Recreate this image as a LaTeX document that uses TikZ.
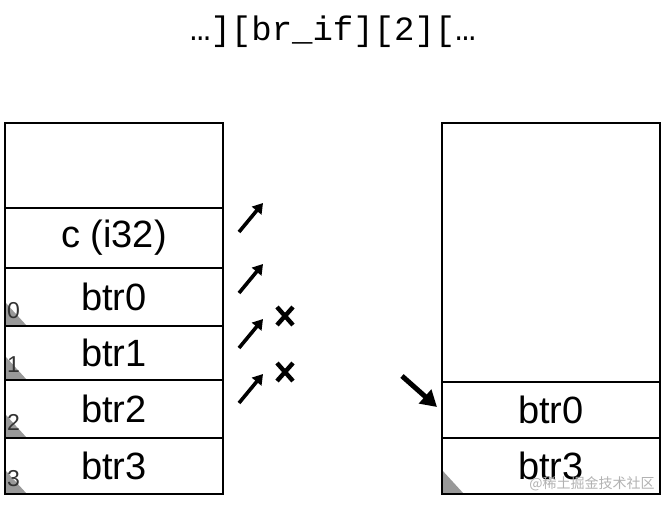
\documentclass[tikz,border=0pt]{standalone}
\usepackage{fontspec}
\setmainfont{Liberation Sans}
\newfontfamily\monofont{Liberation Mono}
\newfontfamily\cjkfont{Noto Sans CJK SC}
\usetikzlibrary{arrows.meta}
\begin{document}
\begin{tikzpicture}[x=1pt,y=-1pt,
  cell/.style={draw=black,line width=1.6pt,inner sep=0pt,minimum width=218pt,
    font=\fontsize{38}{40}\selectfont},
  idx/.style={inner sep=0pt,anchor=base west,text=black!80,font=\fontsize{23}{24}\selectfont},
  tri/.style={fill=black!40,draw=none},
  smallarrow/.style={line width=3.6pt,-{Triangle[length=10pt,width=12pt]}},
  bigarrow/.style={line width=5pt,-{Triangle[length=16pt,width=18pt]}},
  cross/.style={line width=4.4pt}]
\useasboundingbox (0,0) rectangle (670,504);
\fill[white] (0,0) rectangle (670,504);
% title
\node[inner sep=0pt,anchor=base,font=\monofont\fontsize{34}{35}\selectfont] (title) at (333,40) {…][br\_if][2][…};
% gray corner triangles (left stack)
\foreach \b in {326,380,438,494}{\fill[tri] (5,\b) -- (27,\b) -- (5,\b-24) -- cycle;}
\fill[tri] (442,494) -- (464,494) -- (442,470) -- cycle;
% left stack
\node[cell,minimum height=85pt] (Ltop) at (114,165.5) {};
\node[cell,minimum height=60pt] (Lc) at (114,238) {c (i32)};
\node[cell,minimum height=58pt] (L0) at (114,297) {btr0};
\node[cell,minimum height=54pt] (L1) at (114,353) {btr1};
\node[cell,minimum height=58pt] (L2) at (114,409) {btr2};
\node[cell,minimum height=56pt] (L3) at (114,466) {btr3};
% right stack
\node[cell,minimum height=259pt] (Rtop) at (551,252.5) {};
\node[cell,minimum height=56pt] (R0) at (551,410) {btr0};
\node[cell,minimum height=56pt] (R3) at (551,466) {btr3};
% index labels
\node[idx] (i0) at (7,318) {0};
\node[idx] (i1) at (7,372) {1};
\node[idx] (i2) at (7,430) {2};
\node[idx] (i3) at (7,486) {3};
% small arrows
\foreach \n/\y in {a/232,b/293,c/348,d/403}{
  \coordinate (\n1) at (239,\y);
  \coordinate (\n2) at (263,\y-29);
  \draw[smallarrow] (\n1) -- (\n2);
}
% crosses
\foreach \n/\y in {x/316,y/372}{
  \coordinate (\n c) at (285,\y);
  \draw[cross] ([shift={(-8,-9)}]\n c) -- ([shift={(8,9)}]\n c);
  \draw[cross] ([shift={(8,-9)}]\n c) -- ([shift={(-8,9)}]\n c);
}
% big arrow
\coordinate (ba1) at (402,376);
\coordinate (ba2) at (437,407);
\draw[bigarrow] (ba1) -- (ba2);
% watermark
\node[inner sep=0pt,text=black!30,font=\cjkfont\fontsize{14}{15}\selectfont] (wm) at (592,484) {@稀土掘金技术社区};
\end{tikzpicture}
\end{document}
